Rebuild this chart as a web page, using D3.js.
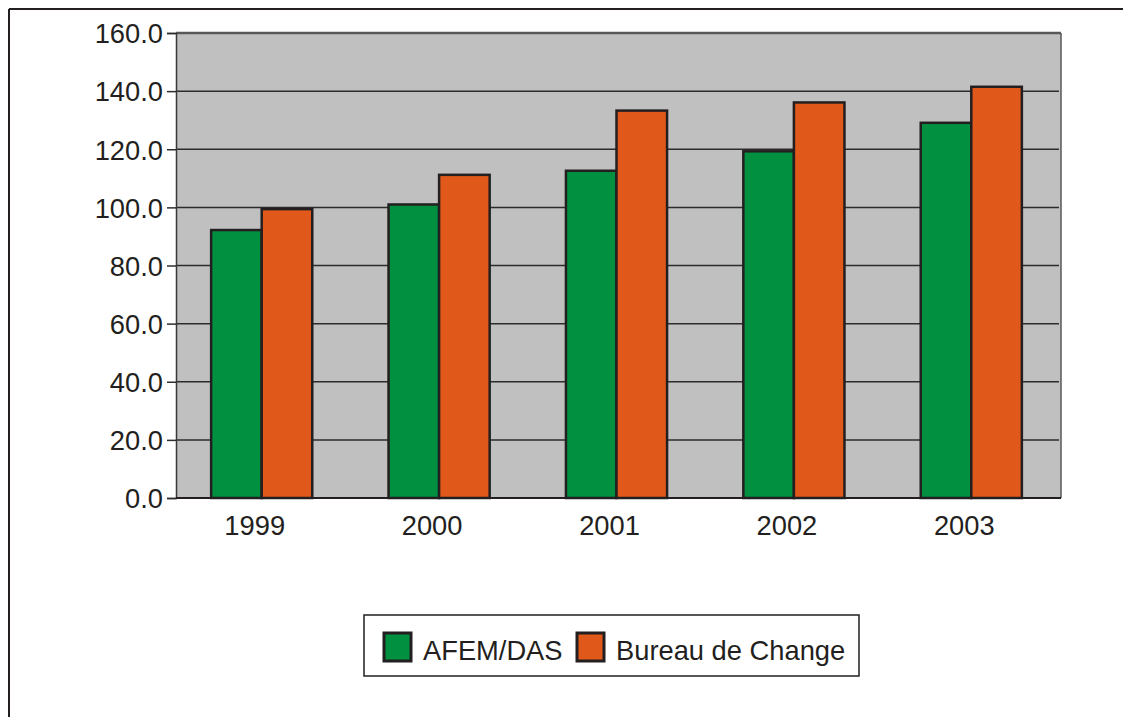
<!DOCTYPE html>
<html>
<head>
<meta charset="utf-8">
<script src="https://cdn.jsdelivr.net/npm/d3@7"></script>
<style>
  html, body { margin: 0; padding: 0; background: #ffffff; }
  svg { display: block; }
  text { font-family: Arial, "Liberation Sans", sans-serif; fill: #231f20; }
</style>
</head>
<body>
<svg id="chart" width="1123" height="717"></svg>
<script>
// Exchange rate series by year
const years = ["1999", "2000", "2001", "2002", "2003"];
const seriesNames = ["AFEM/DAS", "Bureau de Change"];
const afemDas = [92.2, 101.0, 112.6, 119.3, 129.1];
const bureauDeChange = [99.4, 111.2, 133.3, 136.1, 141.5];
const yTicks = [0, 20, 40, 60, 80, 100, 120, 140, 160];
const seriesColors = ["#009040", "#e0591a"];

const rows = years.map((y, i) => ({ year: y, values: [afemDas[i], bureauDeChange[i]] }));

const svg = d3.select("#chart");
const W = 1123, H = 717;
const FONT = 27.3;

// outer frame (top and left edges)
svg.append("line").attr("x1", 9).attr("x2", W).attr("y1", 9).attr("y2", 9)
  .attr("stroke", "#231f20").attr("stroke-width", 2);
svg.append("line").attr("x1", 9).attr("x2", 9).attr("y1", 9).attr("y2", H)
  .attr("stroke", "#231f20").attr("stroke-width", 2);

const plot = { left: 176, right: 1061, top: 33, bottom: 498 };

const x = d3.scaleBand().domain(years)
  .range([plot.left - 3, plot.right - 1])
  .paddingInner(0.43).paddingOuter(0.215);
const xs = d3.scaleBand().domain(seriesNames).range([0, x.bandwidth()]);
const y = d3.scaleLinear().domain([0, 160]).range([plot.bottom, plot.top]);

// plot background
svg.append("rect")
  .attr("x", plot.left).attr("y", plot.top)
  .attr("width", plot.right - plot.left).attr("height", plot.bottom - plot.top)
  .attr("fill", "#c0c0c0");

// gridlines
svg.append("g").selectAll("line").data(yTicks.filter(t => t > 0 && t < 160)).join("line")
  .attr("x1", plot.left).attr("x2", plot.right - 2)
  .attr("y1", d => y(d)).attr("y2", d => y(d))
  .attr("stroke", "#2e2b2b").attr("stroke-width", 1.5);

// plot border
svg.append("line").attr("x1", plot.left).attr("x2", plot.right)
  .attr("y1", plot.top).attr("y2", plot.top)
  .attr("stroke", "#5a5757").attr("stroke-width", 2.5);
svg.append("line").attr("x1", plot.right).attr("x2", plot.right)
  .attr("y1", plot.top).attr("y2", plot.bottom)
  .attr("stroke", "#5a5757").attr("stroke-width", 1.5);

// bars
const groups = svg.append("g").selectAll("g").data(rows).join("g")
  .attr("transform", d => `translate(${x(d.year)},0)`);
groups.selectAll("rect").data(d => d.values.map((v, i) => ({ v, i }))).join("rect")
  .attr("x", d => xs(seriesNames[d.i]))
  .attr("y", d => y(d.v))
  .attr("width", xs.bandwidth())
  .attr("height", d => y(0) - y(d.v))
  .attr("fill", d => seriesColors[d.i])
  .attr("stroke", "#231f20").attr("stroke-width", 2.5);

// y axis
const yAxis = svg.append("g")
  .attr("transform", `translate(${plot.left},0)`)
  .call(d3.axisLeft(y).tickValues(yTicks).tickFormat(d3.format(".1f")).tickSize(9).tickPadding(4));
yAxis.select(".domain").attr("stroke", "#3a3737").attr("stroke-width", 1.5);
yAxis.selectAll(".tick line").attr("stroke", "#2e2b2b").attr("stroke-width", 1.5);
yAxis.selectAll("text").attr("font-size", FONT).attr("fill", "#231f20")
  .attr("font-family", "Arial, 'Liberation Sans', sans-serif").attr("dy", "0.36em");

// x axis
const xAxis = svg.append("g")
  .attr("transform", `translate(0,${plot.bottom})`)
  .call(d3.axisBottom(x).tickSize(0).tickPadding(17));
xAxis.select(".domain").attr("stroke", "#231f20").attr("stroke-width", 2)
  .attr("d", `M${plot.left},0H${plot.right}`);
xAxis.selectAll("text").attr("font-size", FONT).attr("fill", "#231f20")
  .attr("font-family", "Arial, 'Liberation Sans', sans-serif").attr("dx", -7).attr("dy", "0.75em");

// legend
const legend = svg.append("g");
legend.append("rect").attr("x", 364).attr("y", 615).attr("width", 495).attr("height", 61)
  .attr("fill", "#ffffff").attr("stroke", "#231f20").attr("stroke-width", 1.5);
const legendX = [384, 577];
const items = legend.selectAll("g.item").data(seriesNames).join("g").attr("class", "item")
  .attr("transform", (d, i) => `translate(${legendX[i]},633)`);
items.append("rect").attr("x", 0).attr("y", 0).attr("width", 27).attr("height", 28)
  .attr("fill", (d, i) => seriesColors[i]).attr("stroke", "#231f20").attr("stroke-width", 3);
items.append("text").attr("x", 39).attr("y", 27).attr("font-size", FONT).text(d => d);
</script>
</body>
</html>
